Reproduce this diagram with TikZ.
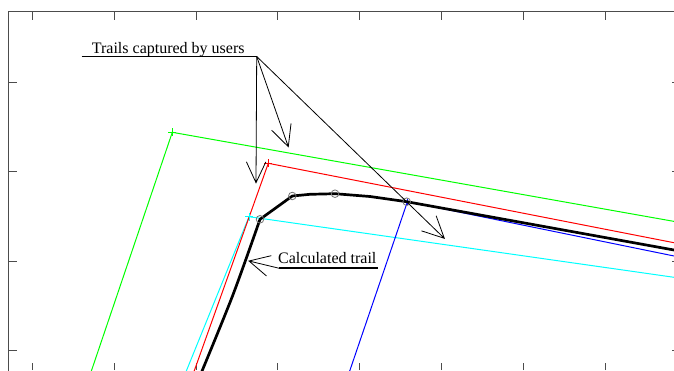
\documentclass[tikz,border=0pt]{standalone}
\usepackage{fontspec}
\setmainfont{Liberation Serif}
\usetikzlibrary{calc}
\definecolor{tcyan}{RGB}{0,255,255}
\definecolor{tgreen}{RGB}{0,255,0}
\definecolor{tred}{RGB}{255,0,0}
\definecolor{tblue}{RGB}{0,0,255}
\begin{document}
\begin{tikzpicture}[x=1pt,y=-1pt,
  frame/.style={draw=black!70,line width=0.9pt},
  trailline/.style={line width=1pt},
  calctrail/.style={draw=black,line width=2.7pt,line join=round},
  ann/.style={draw=black,line width=0.8pt},
  uline/.style={draw=black,line width=1.8pt},
  lbl/.style={font=\fontsize{16}{19}\selectfont,inner sep=0pt,anchor=base west},
  mk/.style={draw=black!55,line width=0.8pt},
  plusmk/.style={line width=0.8pt}]
\useasboundingbox (0,0) rectangle (674,370);
\begin{scope}
\clip (0,0) rectangle (674,370);
% frame and ticks
\draw[frame] (8.3,390) -- (8.3,11.5) -- (700,11.5);
\foreach \tx in {32.3,114.15,196,277.85,359.7,441.55,523.4,605.25}{
  \draw[frame] (\tx,11.5) -- (\tx,19.5);
  \draw[frame] (\tx,370) -- (\tx,362.5);
}
\foreach \ty in {82,171.5,261,350.5}{
  \draw[frame] (8.3,\ty) -- (16.5,\ty);
  \draw[frame] (680,\ty) -- (672,\ty);
}
% user trails
\coordinate (gc) at (172.3,132.3);
\coordinate (rc) at (268.3,163.3);
\coordinate (cc) at (249,216.7);
\coordinate (bc) at (407.5,201.5);
\draw[trailline,tgreen] (84.9,390) -- (gc) -- (700,226);
\draw[trailline,tcyan] (178.6,390) -- (cc) -- (700,281);
\draw[trailline,tred] (187.4,390) -- (rc) -- (700,247.8);
\draw[trailline,tblue] (343.2,390) -- (bc) -- (700,261.3);
\draw[plusmk,tgreen] ($(gc)+(-4,0)$) -- ($(gc)+(4,0)$) ($(gc)+(0,-4)$) -- ($(gc)+(0,4)$);
\draw[plusmk,tred] ($(rc)+(-4,0)$) -- ($(rc)+(4,0)$) ($(rc)+(0,-4)$) -- ($(rc)+(0,4)$);
\draw[plusmk,tcyan] ($(cc)+(-4,0)$) -- ($(cc)+(4,0)$) ($(cc)+(0,-4)$) -- ($(cc)+(0,4)$);
\draw[plusmk,tblue] ($(bc)+(-3,0)$) -- ($(bc)+(3,0)$) ($(bc)+(0,-3)$) -- ($(bc)+(0,3)$);
% calculated trail
\coordinate (k1) at (260,219.3);
\coordinate (k2) at (292.3,196);
\coordinate (k3) at (335,193.7);
\coordinate (k4) at (406.7,201.7);
\draw[calctrail] plot[smooth,tension=0.5] coordinates {(198.3,380) (232.5,296) (260,219.3)}
  -- (k2) -- (310,194.3) -- (k3) -- (370,196.5) -- (k4) -- (700,254.7);
\foreach \k in {k1,k2,k3,k4}{
  \draw[mk] (\k) circle (3.8);
}
% annotation: Trails captured by users
\node[lbl] (t1) at (91.7,53.2) {Trails captured by users};
\coordinate (ulA) at (81.7,56.5);
\coordinate (hub) at (256.7,56.5);
\draw[uline] (ulA) -- (hub);
\coordinate (tA) at (256,182.7);
\coordinate (tB) at (288.3,146.7);
\coordinate (tC) at (444.3,238.3);
\draw[ann] (hub) -- (tA) ($(tA)!23pt!25:(hub)$) -- (tA) -- ($(tA)!23pt!-25:(hub)$);
\draw[ann] (hub) -- (tB) ($(tB)!23.5pt!26:(hub)$) -- (tB) -- ($(tB)!23.5pt!-26:(hub)$);
\draw[ann] (hub) -- (tC) ($(tC)!24pt!26:(hub)$) -- (tC) -- ($(tC)!24pt!-26:(hub)$);
% annotation: Calculated trail
\node[lbl] (t2) at (278,263.5) {Calculated trail};
\coordinate (ulB) at (279.3,268.3);
\coordinate (ulC) at (378,268.3);
\coordinate (tD) at (249,261);
\draw[uline] (ulB) -- (ulC);
\draw[ann] (ulB) -- (tD) ($(tD)!23pt!27:(ulB)$) -- (tD) -- ($(tD)!23pt!-27:(ulB)$);
\end{scope}
\end{tikzpicture}
\end{document}
